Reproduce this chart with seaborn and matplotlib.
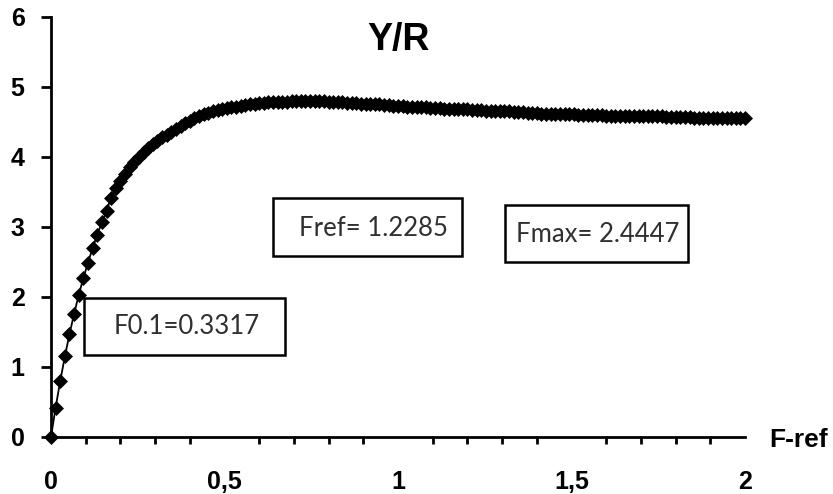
import numpy as np
import pandas as pd
import matplotlib
matplotlib.use("Agg")
import matplotlib.pyplot as plt
from matplotlib.patches import Rectangle
import seaborn as sns

# Yield per recruit (Y/R) against fishing mortality relative to reference (F-ref)
yr_values = [
    0.00, 0.42, 0.80, 1.15, 1.47, 1.76, 2.03, 2.27, 2.49, 2.70,
    2.89, 3.07, 3.23, 3.42, 3.55, 3.66, 3.75, 3.85, 3.93, 4.00,
    4.07, 4.13, 4.18, 4.23, 4.28, 4.32, 4.36, 4.40, 4.44, 4.48,
    4.52, 4.55, 4.58, 4.61, 4.63, 4.65, 4.67, 4.68, 4.70, 4.71,
    4.72, 4.73, 4.74, 4.75, 4.76, 4.77, 4.77, 4.78, 4.78, 4.79,
    4.79, 4.79, 4.80, 4.80, 4.80, 4.80, 4.80, 4.80, 4.80, 4.80,
    4.79, 4.79, 4.78, 4.78, 4.77, 4.77, 4.77, 4.76, 4.76, 4.75,
    4.75, 4.75, 4.74, 4.74, 4.73, 4.73, 4.73, 4.72, 4.72, 4.72,
    4.71, 4.71, 4.70, 4.70, 4.70, 4.69, 4.69, 4.69, 4.68, 4.68,
    4.68, 4.67, 4.67, 4.67, 4.66, 4.66, 4.66, 4.65, 4.65, 4.65,
    4.64, 4.64, 4.64, 4.63, 4.63, 4.63, 4.62, 4.62, 4.62, 4.62,
    4.61, 4.61, 4.61, 4.61, 4.60, 4.60, 4.60, 4.60, 4.60, 4.60,
    4.59, 4.59, 4.59, 4.59, 4.59, 4.59, 4.58, 4.58, 4.58, 4.58,
    4.58, 4.58, 4.58, 4.57, 4.57, 4.57, 4.57, 4.57, 4.57, 4.56,
    4.56, 4.56, 4.56, 4.56, 4.56, 4.56, 4.55, 4.55, 4.55, 4.55,
    4.55,
]
f_ref = np.linspace(0.0, 2.0, len(yr_values))

x_major = [0.0, 0.5, 1.0, 1.5, 2.0]
x_major_labels = ["0", "0,5", "1", "1,5", "2"]
x_minor = [0.1, 0.2, 0.3, 0.4, 0.6, 0.7, 0.8, 0.9, 1.1, 1.2, 1.3, 1.4,
           1.6, 1.7, 1.8, 1.9]
y_major = [0, 1, 2, 3, 4, 5, 6]

ref_labels = ["F0.1=0.3317", "Fref= 1.2285", "Fmax= 2.4447"]

df = pd.DataFrame({"F-ref": f_ref, "Y/R": yr_values})

sns.set_theme(style="white")
plt.rcParams["font.family"] = ["Liberation Sans", "DejaVu Sans"]

fig = plt.figure(figsize=(8.33, 4.94), dpi=100)
ax = fig.add_axes([0.0612, 0.1154, 0.8332, 0.8502])

sns.lineplot(data=df, x="F-ref", y="Y/R", ax=ax, color="black",
             linewidth=1.3, marker="D", markersize=7.5,
             markeredgecolor="black", markerfacecolor="black",
             markeredgewidth=0.5, clip_on=False, zorder=5)

ax.set_xlim(0, 2)
ax.set_ylim(0, 6)
ax.set_xticks(x_major)
ax.set_xticklabels(x_major_labels)
ax.set_xticks(x_minor, minor=True)
ax.set_yticks(y_major)
ax.set_yticklabels([str(v) for v in y_major])

for side in ("top", "right"):
    ax.spines[side].set_visible(False)
for side in ("left", "bottom"):
    ax.spines[side].set_color("black")
    ax.spines[side].set_linewidth(2)

ax.tick_params(axis="x", which="major", direction="out", length=7, width=2,
               color="black", pad=17, labelsize=18)
ax.tick_params(axis="x", which="minor", direction="out", length=5, width=2,
               color="black", bottom=True)
ax.tick_params(axis="y", which="major", direction="out", length=7, width=2,
               color="black", pad=12, labelsize=18, left=True)
for lbl in ax.get_xticklabels() + ax.get_yticklabels():
    lbl.set_fontweight("bold")
    lbl.set_color("black")

ax.set_xlabel("")
ax.set_ylabel("")
ax.grid(False)

ax.text(0.5, 0.945, "Y/R", transform=ax.transAxes, ha="center", va="center",
        fontsize=27, fontweight="bold", color="black")
ax.text(1.035, -0.008, "F-ref", transform=ax.transAxes, ha="left",
        va="center", fontsize=19, fontweight="bold", color="black",
        clip_on=False)

# Annotation boxes: (x0, y0, width, height) in axes fraction, text centre
boxes = [
    ((0.0476, 0.195, 0.2896, 0.136), (0.195, 0.262)),
    ((0.3199, 0.431, 0.2723, 0.138), (0.465, 0.497)),
    ((0.6542, 0.4167, 0.2637, 0.1357), (0.7875, 0.483)),
]
for (rect, (tx, ty)), label in zip(boxes, ref_labels):
    ax.add_patch(Rectangle(rect[:2], rect[2], rect[3], transform=ax.transAxes,
                           facecolor="white", edgecolor="black",
                           linewidth=1.8, zorder=6))
    ax.text(tx, ty, label, transform=ax.transAxes, ha="center", va="center",
            fontsize=18.5, family=["Lato", "DejaVu Sans"], color="#303030",
            zorder=7)

fig.savefig("out.png", dpi=100, facecolor="white")
